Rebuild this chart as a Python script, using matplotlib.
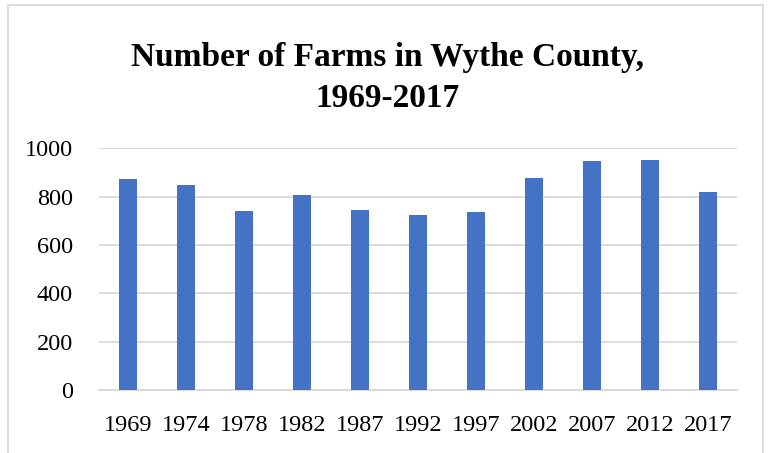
import matplotlib.pyplot as plt
from matplotlib.patches import Rectangle

years = ["1969", "1974", "1978", "1982", "1987", "1992",
         "1997", "2002", "2007", "2012", "2017"]
farms = [872, 848, 739, 805, 746, 724, 736, 876, 946, 952, 819]

plt.rcParams['font.family'] = ['Liberation Serif', 'DejaVu Serif']

fig = plt.figure(figsize=(7.68, 4.53), dpi=100)
ax = fig.add_axes([0.129, 0.139, 0.831, 0.534])

bar_color = "#4472C4"
grid_color = "#d9d9d9"

x = range(len(years))
ax.bar(x, farms, width=0.31, color=bar_color, zorder=3)

ax.set_xlim(-0.5, len(years) - 0.5)
ax.set_ylim(0, 1000)
ax.set_yticks(range(0, 1001, 200))
ax.set_xticks(list(x))
ax.set_xticklabels(years)

ax.yaxis.grid(True, color=grid_color, linewidth=1.3, zorder=0)
for side in ["top", "right", "left"]:
    ax.spines[side].set_visible(False)
ax.spines["bottom"].set_color(grid_color)
ax.spines["bottom"].set_linewidth(1.3)
ax.tick_params(axis="both", length=0, labelsize=17.5)
ax.tick_params(axis="y", pad=19)
ax.tick_params(axis="x", pad=18)

fig.text(0.505, 0.873, "Number of Farms in Wythe County,", ha="center",
         va="center", fontsize=24, fontweight="bold")
fig.text(0.505, 0.782, "1969-2017", ha="center", va="center",
         fontsize=24, fontweight="bold")

# light border around the chart area
fig.patches.append(Rectangle((8 / 768, -0.05), 755 / 768, 1.04,
                             transform=fig.transFigure, fill=False,
                             edgecolor=grid_color, linewidth=1.3))

fig.savefig("out.png", dpi=100)
